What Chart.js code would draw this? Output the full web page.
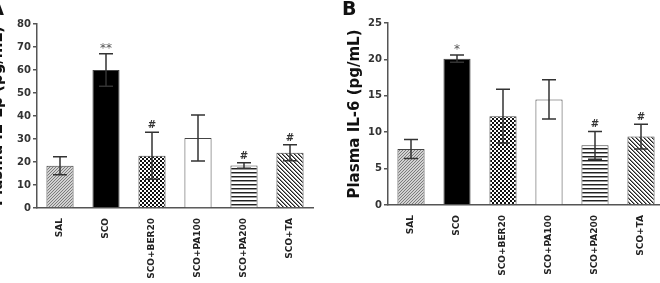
<!DOCTYPE html>
<html>
<head>
<meta charset="utf-8">
<script src="https://cdn.jsdelivr.net/npm/chart.js@4.4.1/dist/chart.umd.min.js"></script>
<style>
  html, body { margin: 0; padding: 0; background: #fff; overflow: hidden; width: 660px; height: 283px; }
  .panel { position: absolute; top: 0; height: 283px; }
  #wrapA { left: -12px; width: 335px; }
  #wrapB { left: 330px; width: 334px; }
</style>
</head>
<body>
<div class="panel" id="wrapA"><canvas id="chartA" width="335" height="283"></canvas></div>
<div class="panel" id="wrapB"><canvas id="chartB" width="334" height="283"></canvas></div>
<script>
const groups = ["SAL", "SCO", "SCO+BER20", "SCO+PA100", "SCO+PA200", "SCO+TA"];

// panel A: IL-1beta
const il1b = [18.4, 60, 22.7, 30.4, 18.5, 24];
const il1bErr = [3.9, 7.1, 10.2, 10, 1.2, 3.5];
const il1bSig = ["", "**", "#", "", "#", "#"];

// panel B: IL-6
const il6 = [7.7, 20.1, 12.2, 14.5, 8.2, 9.4];
const il6Err = [1.3, 0.5, 3.7, 2.7, 1.9, 1.7];
const il6Sig = ["", "*", "", "", "#", "#"];

const FONT = '"DejaVu Sans", Verdana, sans-serif';

// little pixel tiles for the bar fills
function tile(size, pick) {
  const c = document.createElement("canvas");
  c.width = c.height = size;
  const g = c.getContext("2d");
  for (let x = 0; x < size; x++) {
    for (let y = 0; y < size; y++) {
      g.fillStyle = pick(x, y);
      g.fillRect(x, y, 1, 1);
    }
  }
  return g.createPattern(c, "repeat");
}

const fills = [
  tile(3, (x, y) => ((x + y) % 3 === 0 ? "#7c7c7c" : "#d2d2d2")),            // SAL fine hatch
  "#000000",                                                                 // SCO solid
  tile(4, (x, y) => ((Math.floor(x / 2) + Math.floor(y / 2)) % 2 === 0 ? "#111" : "#fff")), // checker
  "#ffffff",                                                                 // PA100 open
  tile(4, (x, y) => (y === 0 ? "#222" : y === 1 ? "#999" : "#fff")),         // horizontal lines
  tile(4, (x, y) => { const d = ((x - y) % 4 + 4) % 4; return d === 0 ? "#222" : d === 1 ? "#8a8a8a" : "#fff"; })
];

const errorBars = {
  id: "errorBars",
  afterDatasetsDraw(chart, args, opts) {
    const { ctx } = chart;
    const y = chart.scales.y;
    const ds = chart.data.datasets[0];
    const meta = chart.getDatasetMeta(0);
    ctx.save();
    meta.data.forEach((bar, i) => {
      const v = ds.data[i], e = ds.err[i];
      const yTop = y.getPixelForValue(v + e);
      const yBot = y.getPixelForValue(v - e);
      const cap = 7;
      ctx.strokeStyle = "#333";
      ctx.lineWidth = 1.5;
      ctx.beginPath();
      ctx.moveTo(bar.x, yTop); ctx.lineTo(bar.x, yBot);
      ctx.moveTo(bar.x - cap, yTop); ctx.lineTo(bar.x + cap, yTop);
      ctx.moveTo(bar.x - cap, yBot); ctx.lineTo(bar.x + cap, yBot);
      ctx.stroke();

      const s = ds.sig[i];
      if (s) {
        ctx.textAlign = "center";
        ctx.textBaseline = "alphabetic";
        if (s[0] === "*") {
          ctx.font = "12px " + FONT;
          ctx.fillStyle = "#555";
          ctx.fillText(s, bar.x, yTop - 2);
        } else {
          ctx.font = "bold 10px " + FONT;
          ctx.fillStyle = "#333";
          ctx.fillText(s, bar.x, yTop - 4);
        }
      }
    });
    // panel letter
    ctx.font = "bold 19px " + FONT;
    ctx.fillStyle = "#111";
    ctx.textAlign = opts.align;
    ctx.textBaseline = "alphabetic";
    ctx.fillText(opts.letter, opts.x, 15);
    ctx.restore();
  }
};

function makeChart(id, values, errs, sigs, cfg) {
  return new Chart(document.getElementById(id).getContext("2d"), {
    type: "bar",
    data: {
      labels: groups,
      datasets: [{
        data: values,
        err: errs,
        sig: sigs,
        backgroundColor: fills,
        borderColor: "#444",
        borderWidth: 1,
        categoryPercentage: 1,
        barPercentage: 0.59
      }]
    },
    options: {
      responsive: false,
      animation: false,
      layout: { padding: { top: cfg.top, right: cfg.right, left: 0, bottom: 0 } },
      plugins: {
        legend: { display: false },
        tooltip: { enabled: false },
        errorBars: { letter: cfg.letter, x: cfg.lx, align: cfg.lalign }
      },
      scales: {
        x: {
          grid: { display: false },
          border: { display: true, color: "#555", width: 1.5 },
          ticks: {
            autoSkip: false, minRotation: 90, maxRotation: 90, padding: 2,
            color: "#222", font: { family: FONT, size: 9, weight: "bold" }
          },
          afterFit: (s) => { s.height = cfg.xh; }
        },
        y: {
          min: 0, max: cfg.max,
          grid: { display: true, drawOnChartArea: false, drawTicks: true, tickLength: 4, color: "#555", lineWidth: 1.5 },
          border: { display: true, color: "#555", width: 1.5 },
          ticks: { stepSize: cfg.step, padding: 2, color: "#333", font: { family: FONT, size: 10, weight: "bold" } },
          title: {
            display: true, text: cfg.title, color: "#111",
            padding: { top: cfg.tpad, bottom: 0 },
            font: { family: FONT, size: 15, weight: "bold" }
          },
          afterFit: (s) => { s.width = cfg.yw; }
        }
      }
    },
    plugins: [errorBars]
  });
}

makeChart("chartA", il1b, il1bErr, il1bSig, {
  max: 80, step: 10, title: "Plasma IL-1β (pg/mL)",
  top: 24, right: 10, xh: 75, yw: 49, tpad: 1,
  letter: "A", lx: 16, lalign: "right"
});

makeChart("chartB", il6, il6Err, il6Sig, {
  max: 25, step: 5, title: "Plasma IL-6 (pg/mL)",
  top: 23, right: 0, xh: 78, yw: 58, tpad: 16,
  letter: "B", lx: 12, lalign: "left"
});
</script>
</body>
</html>
